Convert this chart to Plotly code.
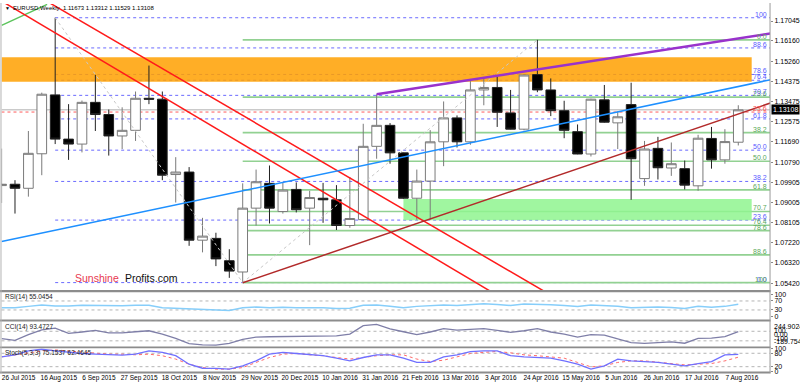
import plotly.graph_objects as go

W, H = 800, 386

# ---------------- data ----------------
weeks = list(range(56))
tick_weeks = list(range(0, 55, 3))
tick_labels = ["26 Jul 2015", "16 Aug 2015", "6 Sep 2015", "27 Sep 2015", "18 Oct 2015",
               "8 Nov 2015", "29 Nov 2015", "20 Dec 2015", "10 Jan 2016", "31 Jan 2016",
               "21 Feb 2016", "13 Mar 2016", "3 Apr 2016", "24 Apr 2016", "15 May 2016",
               "5 Jun 2016", "26 Jun 2016", "17 Jul 2016", "7 Aug 2016"]

opens = [1.0975, 1.0981, 1.0963, 1.1116, 1.1377, 1.1181, 1.1159, 1.1344, 1.1290, 1.1195,
         1.1220, 1.1362, 1.1358, 1.1024, 1.1035, 1.0733, 1.0741, 1.0642, 1.0592, 1.0875,
         1.0985, 1.0860, 1.0958, 1.0875, 1.0919, 1.0912, 1.0798, 1.0824, 1.1149, 1.1242,
         1.1120, 1.0919, 1.0995, 1.1169, 1.1275, 1.1169, 1.1399, 1.1410, 1.1297, 1.1225,
         1.1467, 1.1399, 1.1307, 1.1214, 1.1115, 1.1355, 1.1253, 1.1334, 1.1006, 1.1140,
         1.1053, 1.1050, 1.0974, 1.1184, 1.1089, 1.11673]
highs = [1.1139, 1.0999, 1.1217, 1.1387, 1.1719, 1.1336, 1.1352, 1.1466, 1.1312, 1.1322,
         1.1392, 1.1507, 1.1392, 1.1101, 1.1057, 1.0832, 1.0766, 1.0693, 1.0985, 1.1046,
         1.1064, 1.0987, 1.0989, 1.0952, 1.0987, 1.0977, 1.1013, 1.1249, 1.1380, 1.1252,
         1.1121, 1.1046, 1.1221, 1.1348, 1.1286, 1.1438, 1.1450, 1.1457, 1.1399, 1.1467,
         1.1621, 1.1450, 1.1351, 1.1246, 1.1360, 1.1421, 1.1304, 1.1431, 1.1173, 1.1191,
         1.1166, 1.1086, 1.1200, 1.1235, 1.1225, 1.13312]
lows = [1.0898, 1.0851, 1.0926, 1.1021, 1.1159, 1.1089, 1.1122, 1.1217, 1.1108, 1.1137,
        1.1173, 1.1336, 1.0999, 1.0900, 1.0708, 1.0679, 1.0618, 1.0566, 1.0548, 1.0798,
        1.0807, 1.0851, 1.0856, 1.0711, 1.0810, 1.0778, 1.0788, 1.0821, 1.1094, 1.1072,
        1.0916, 1.0824, 1.0824, 1.1061, 1.1144, 1.1156, 1.1331, 1.1235, 1.1224, 1.1220,
        1.1389, 1.1283, 1.1185, 1.1114, 1.1104, 1.1254, 1.1137, 1.0912, 1.0974, 1.1002,
        1.1018, 1.0958, 1.0952, 1.1050, 1.1072, 1.11529]
closes = [1.0981, 1.0963, 1.1118, 1.1380, 1.1181, 1.1159, 1.1344, 1.1290, 1.1195, 1.1220,
          1.1362, 1.1358, 1.1021, 1.1035, 1.0733, 1.0751, 1.0650, 1.0596, 1.0875, 1.0992,
          1.0875, 1.0955, 1.0868, 1.0922, 1.0912, 1.0798, 1.0829, 1.1149, 1.1242, 1.1120,
          1.0919, 1.0995, 1.1169, 1.1275, 1.1169, 1.1399, 1.1410, 1.1300, 1.1225, 1.1465,
          1.1399, 1.1307, 1.1220, 1.1115, 1.1358, 1.1256, 1.1280, 1.1094, 1.1137, 1.1054,
          1.1072, 1.0977, 1.1185, 1.1089, 1.1170, 1.13108]

rsi = [40, 40, 46, 52, 48, 47.5, 51, 49.5, 48, 49, 51, 51, 40, 38, 34, 34, 30, 28, 40, 43,
       40, 42, 40, 41, 40, 37, 38, 51, 52, 47, 40, 46, 49, 52, 50, 55, 58, 54, 50, 57,
       56, 53, 50, 45, 52, 49, 47, 40, 43, 43, 41, 37, 46, 42, 46, 55.0454]
cci = [-55, -89, 30, 131, 165, 58, 85, 120, 65, 65, 90, 111, 40, -50, -160, -185, -189, -155, -69, -22,
       -15, -9, -12, -10, 8, 3, 40, 218, 244.9, 150, 90, 31, 85, 155, 125, 140, 155, 118, 78, 111,
       155, 85, 40, -22, 31, 20, -50, -136, -155, -140, -120, -150, -50, -45, -10, 93.4727]
stoch_main = [64, 73, 91, 98, 91, 84, 79, 76, 73, 72, 76, 91, 84, 69, 31, 13, 12, 9, 24, 46,
              76, 84, 79, 73, 69, 58, 46, 61, 73, 73, 58, 39, 39, 64, 73, 87, 91, 91, 69, 64,
              61, 58, 46, 31, 9, 24, 54, 46, 43, 39, 31, 24, 34, 43, 73, 75.1537]
stoch_signal = [64, 73, 84, 90, 95, 90, 84, 79, 76, 76, 73, 76, 69, 54, 31, 16, 9, 9, 16, 39,
                61, 76, 79, 73, 69, 61, 54, 61, 69, 73, 73, 54, 43, 49, 64, 79, 84, 88, 82, 73,
                69, 64, 58, 39, 19, 24, 39, 46, 46, 40, 34, 28, 31, 34, 46, 62.4645]

price_ticks = [1.17045, 1.16160, 1.15260, 1.14375, 1.13475, 1.12575, 1.11690,
               1.10790, 1.09905, 1.09005, 1.08105, 1.07220, 1.06320, 1.05420]

fib_levels = [0, 23.6, 38.2, 50, 61.8, 70.7, 76.4, 78.6, 88.6, 100]
fib_labels = ["0.0", "23.6", "38.2", "50.0", "61.8", "70.7", "76.4", "78.6", "88.6", "100"]
fib_blue = dict(start=4, high=1.1719, low=1.0545)     # 0 at low, 100 at high
fib_green = dict(start=18, high=1.1621, low=1.0545)   # 0 at high, 100 at low
fib_diag_x = [4, 18, 40]
fib_diag_y = [1.1719, 1.0545, 1.1621]

orange_zone = dict(x0=0, x1=56, y0=1.1435, y1=1.1544)
green_zone = dict(x0=30, x1=56, y0=1.0821, y1=1.0916)
red_level = 1.1301

trend_lines = [
    # x points, y points, colour, width
    ([0, 3.4], [1.1685, 1.1778], "#5cc45c", 1.5),
    ([0, 40], [1.1793, 1.0383], "#ff1a1a", 1.5),
    ([0, 42], [1.1909, 1.0455], "#ff1a1a", 1.5),
    ([0, 57.4], [1.0727, 1.1444], "#1e90ff", 1.5),
    ([28, 57.4], [1.1380, 1.1649], "#9932cc", 2.5),
    ([18, 57.4], [1.0544, 1.1341], "#b22a2a", 1.5),
]

X_RANGE = [-0.0075, 57.37]
PRICE_RANGE = [1.05123, 1.17800]
RSI_RANGE = [-12.5, 109]
CCI_RANGE = [-215.8, 305]
STOCH_RANGE = [-1.5, 102]


def px(x):
    return x / W


def py(y):
    return 1 - y / H


FONT = "Liberation Sans, Arial, sans-serif"

fig = go.Figure()

# fib diagonals (faint dotted)
fig.add_trace(go.Scatter(x=fib_diag_x, y=fib_diag_y, mode="lines",
                         line=dict(color="#c8c8c8", width=1, dash="dot"),
                         hoverinfo="skip", showlegend=False))

fig.add_trace(go.Candlestick(
    x=weeks, open=opens, high=highs, low=lows, close=closes,
    increasing=dict(fillcolor="#ffffff", line=dict(color="#7a7a7a", width=1)),
    decreasing=dict(fillcolor="#000000", line=dict(color="#222222", width=1)),
    whiskerwidth=0, hoverinfo="skip", showlegend=False))

for xs, ys, col, wd in trend_lines:
    fig.add_trace(go.Scatter(x=xs, y=ys, mode="lines", line=dict(color=col, width=wd),
                             hoverinfo="skip", showlegend=False))

fig.add_trace(go.Scatter(x=weeks, y=rsi, yaxis="y2", mode="lines",
                         line=dict(color="#87cefa", width=1.5), hoverinfo="skip", showlegend=False))
fig.add_trace(go.Scatter(x=weeks, y=cci, yaxis="y3", mode="lines",
                         line=dict(color="#7f7fa8", width=1.3), hoverinfo="skip", showlegend=False))
fig.add_trace(go.Scatter(x=weeks, y=stoch_signal, yaxis="y4", mode="lines",
                         line=dict(color="#ff6a6a", width=1, dash="dot"), hoverinfo="skip", showlegend=False))
fig.add_trace(go.Scatter(x=weeks, y=stoch_main, yaxis="y4", mode="lines",
                         line=dict(color="#7070ff", width=1.3), hoverinfo="skip", showlegend=False))

shapes = []
annotations = []

# fib horizontal lines
for r, lab in zip(fib_levels, fib_labels):
    pb = fib_blue["low"] + r / 100 * (fib_blue["high"] - fib_blue["low"])
    shapes.append(dict(type="line", xref="x", yref="y", x0=fib_blue["start"], x1=X_RANGE[1],
                       y0=pb, y1=pb, line=dict(color="#6a6aff", width=1, dash="dot"), layer="below"))
    annotations.append(dict(x=px(770), xref="paper", y=pb, yref="y", xanchor="right", yanchor="bottom",
                            yshift=-2, text=lab, showarrow=False,
                            font=dict(size=7, color="#5a5aff", family=FONT)))
    pg = fib_green["high"] - r / 100 * (fib_green["high"] - fib_green["low"])
    shapes.append(dict(type="line", xref="x", yref="y", x0=fib_green["start"], x1=X_RANGE[1],
                       y0=pg, y1=pg, line=dict(color="#92d192", width=1.6), layer="below"))
    annotations.append(dict(x=px(770), xref="paper", y=pg, yref="y", xanchor="right", yanchor="bottom",
                            yshift=-2, text=lab, showarrow=False,
                            font=dict(size=7, color="#5aa85a", family=FONT)))

# zones
shapes.append(dict(type="rect", xref="x", yref="y", x0=orange_zone["x0"], x1=orange_zone["x1"],
                   y0=orange_zone["y0"], y1=orange_zone["y1"], fillcolor="#ffa000", opacity=0.85,
                   line=dict(width=0), layer="below"))
shapes.append(dict(type="rect", xref="x", yref="y", x0=green_zone["x0"], x1=green_zone["x1"],
                   y0=green_zone["y0"], y1=green_zone["y1"], fillcolor="#8ff58f", opacity=0.85,
                   line=dict(width=0), layer="below"))

# red dotted level and current price line
shapes.append(dict(type="line", xref="x", yref="y", x0=X_RANGE[0], x1=X_RANGE[1], y0=red_level, y1=red_level,
                   line=dict(color="#ff5a5a", width=1, dash="dot"), layer="below"))
annotations.append(dict(x=px(770), xref="paper", y=red_level, yref="y", xanchor="right", yanchor="bottom",
                        yshift=-2, text="23.6", showarrow=False, font=dict(size=7, color="#ff5050", family=FONT)))
shapes.append(dict(type="line", xref="x", yref="y", x0=X_RANGE[0], x1=X_RANGE[1], y0=closes[-1], y1=closes[-1],
                   line=dict(color="#b0b0b0", width=1), layer="below"))

# indicator guide lines
for yref, val in [("y2", 70), ("y2", 30), ("y3", 100), ("y3", -100), ("y4", 80), ("y4", 20)]:
    shapes.append(dict(type="line", xref="paper", yref=yref, x0=px(1.5), x1=px(771), y0=val, y1=val,
                       line=dict(color="#b4b4b4", width=1, dash="dot"), layer="below"))

# panel frames / separators
for y0, y1 in [(291.5, 293.8), (321.5, 323.5), (348.8, 350.8), (374.3, 376.3)]:
    shapes.append(dict(type="rect", xref="paper", yref="paper", x0=0, x1=px(771.5),
                       y0=py(y1), y1=py(y0), fillcolor="#8c8c8c", line=dict(width=0), layer="above"))
shapes.append(dict(type="line", xref="paper", yref="paper", x0=px(771), x1=px(771), y0=py(376), y1=1,
                   line=dict(color="#9a9a9a", width=1)))
shapes.append(dict(type="line", xref="paper", yref="paper", x0=px(1), x1=px(1), y0=py(376), y1=1,
                   line=dict(color="#b4b4b4", width=1)))

# texts
annotations += [
    dict(x=px(3), y=py(5.5), xref="paper", yref="paper", xanchor="left", yanchor="middle",
         text="\u25BC", showarrow=False, font=dict(size=5, color="#000000", family=FONT)),
    dict(x=px(11), y=py(5.5), xref="paper", yref="paper", xanchor="left", yanchor="middle",
         text="EURUSD,Weekly  1.11673 1.13312 1.11529 1.13108", showarrow=False,
         font=dict(size=6, color="#000000", family=FONT)),
    dict(x=px(73), y=py(279), xref="paper", yref="paper", xanchor="left", yanchor="middle",
         text="Sunshine", showarrow=False, font=dict(size=10.5, color="#e8384f", family=FONT)),
    dict(x=px(123), y=py(279), xref="paper", yref="paper", xanchor="left", yanchor="middle",
         text="Profits.com", showarrow=False, font=dict(size=10.5, color="#111111", family=FONT)),
    dict(x=px(772), y=closes[-1], xref="paper", yref="y", xanchor="left", yanchor="middle",
         text="1.13108", showarrow=False, bgcolor="#000000", borderpad=1,
         font=dict(size=7, color="#ffffff", family=FONT)),
    dict(x=px(3), y=py(298.5), xref="paper", yref="paper", xanchor="left", yanchor="middle",
         text="RSI(14) 55.0454", showarrow=False, font=dict(size=6.5, color="#222222", family=FONT)),
    dict(x=px(3), y=py(329.5), xref="paper", yref="paper", xanchor="left", yanchor="middle",
         text="CCI(14) 93.4727", showarrow=False, font=dict(size=6.5, color="#222222", family=FONT)),
    dict(x=px(3), y=py(355.5), xref="paper", yref="paper", xanchor="left", yanchor="middle",
         text="Stoch(5,3,3) 75.1537 62.4645", showarrow=False, font=dict(size=6.5, color="#222222", family=FONT)),
]
for txt, yy in [("244.9024", 328.3), ("100", 332.3), ("0.00", 336.7), ("-100", 341), ("-189.7549", 344.3)]:
    annotations.append(dict(x=px(773), y=py(yy), xref="paper", yref="paper", xanchor="left", yanchor="middle",
                            text=txt, showarrow=False, font=dict(size=7, color="#000000", family=FONT)))

axis_common = dict(showgrid=False, zeroline=False, showline=False, fixedrange=True)

fig.update_layout(
    width=W, height=H,
    margin=dict(l=0, r=0, t=0, b=0),
    paper_bgcolor="#ffffff", plot_bgcolor="#ffffff",
    showlegend=False, hovermode=False,
    boxgap=0.28, boxgroupgap=0,
    font=dict(family=FONT, size=7, color="#000000"),
    xaxis=dict(domain=[px(1.5), px(771)], range=X_RANGE, anchor="y4",
               tickmode="array", tickvals=tick_weeks, ticktext=tick_labels,
               ticks="", ticklabelshift=17, ticklabelstandoff=1,
               tickfont=dict(size=6.5, family=FONT, color="#000000"),
               rangeslider=dict(visible=False), **axis_common),
    yaxis=dict(domain=[py(291.5), py(1)], range=PRICE_RANGE, anchor="x", side="right",
               tickmode="array", tickvals=price_ticks, ticktext=["%.5f" % v for v in price_ticks],
               ticks="outside", ticklen=2, tickcolor="#888888",
               tickfont=dict(size=7, family=FONT, color="#000000"), **axis_common),
    yaxis2=dict(domain=[py(321.5), py(293.8)], range=RSI_RANGE, anchor="x", side="right",
                tickmode="array", tickvals=[100, 70, 30, 0], ticktext=["100", "70", "30", "0"],
                ticks="outside", ticklen=2, tickcolor="#888888",
                tickfont=dict(size=7, family=FONT, color="#000000"), **axis_common),
    yaxis3=dict(domain=[py(348.8), py(323.5)], range=CCI_RANGE, anchor="x", side="right",
                showticklabels=False, **axis_common),
    yaxis4=dict(domain=[py(374.3), py(350.8)], range=STOCH_RANGE, anchor="x", side="right",
                tickmode="array", tickvals=[100, 80, 20, 0], ticktext=["100", "80", "20", "0"],
                ticks="outside", ticklen=2, tickcolor="#888888",
                tickfont=dict(size=7, family=FONT, color="#000000"), **axis_common),
    shapes=shapes,
    annotations=annotations,
)

fig.write_html("out.html")
